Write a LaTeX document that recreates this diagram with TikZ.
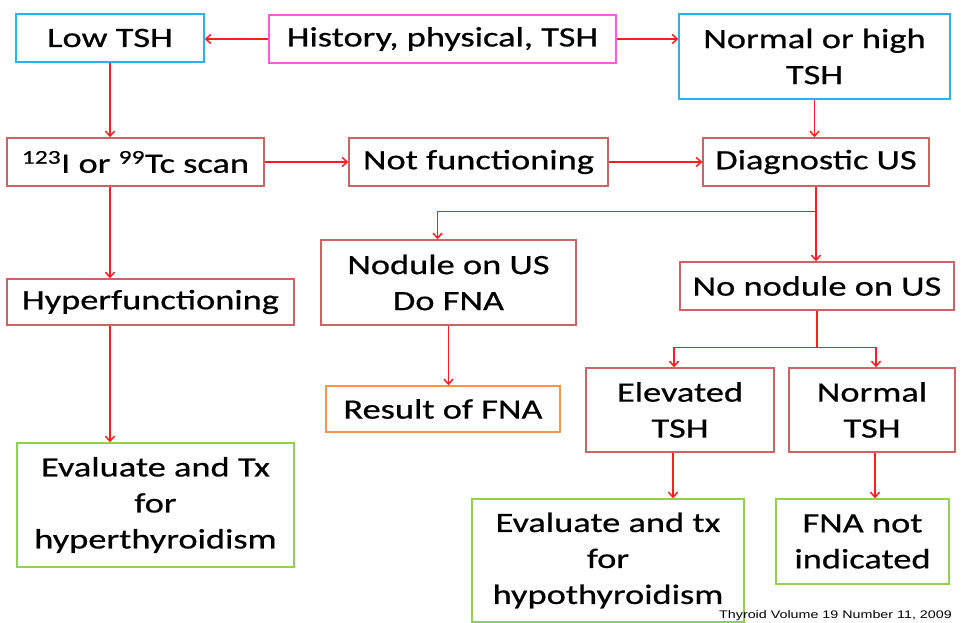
\documentclass[tikz,border=0pt]{standalone}
\usepackage{fontspec}
\setmainfont{Carlito}[FakeStretch=1.3,FakeBold=0.6]
\newfontfamily\capfont{Liberation Sans}[FakeStretch=1.3]
\usetikzlibrary{arrows.meta}
\definecolor{cyanb}{RGB}{40,180,235}
\definecolor{magb}{RGB}{250,90,220}
\definecolor{brownb}{RGB}{205,100,100}
\definecolor{orangeb}{RGB}{247,150,70}
\definecolor{greenb}{RGB}{146,208,80}
\definecolor{arrred}{RGB}{255,30,30}
\begin{document}
\begin{tikzpicture}[x=1pt,y=-1pt,
  box/.style={draw, line width=1.4pt, inner sep=0pt, align=center,
    font=\fontsize{28}{36}\selectfont, text=black},
  cbox/.style={box, draw=cyanb},
  mbox/.style={box, draw=magb},
  bbox/.style={box, draw=brownb},
  obox/.style={box, draw=orangeb},
  gbox/.style={box, draw=greenb},
  arr/.style={draw=arrred, line width=1.5pt, -{Straight Barb[length=5pt,width=9pt]}},
  capt/.style={font=\capfont\fontsize{11}{12}\selectfont, inner sep=0pt}
]
\fill[white] (0,0) rectangle (964,623);
\useasboundingbox (0,0) rectangle (964,623);

\node[cbox, minimum width=188pt, minimum height=48pt] (low) at (110,38) {Low TSH};
\node[mbox, minimum width=347pt, minimum height=48pt] (hist) at (442.5,39) {History, physical, TSH};
\node[cbox, minimum width=271pt, minimum height=85pt] (norm) at (814.5,56.5) {Normal or high\\TSH};
\node[bbox, minimum width=257pt, minimum height=48pt] (scan) at (135.5,162) {\textsuperscript{123}I or \textsuperscript{99}Tc scan};
\node[bbox, minimum width=259pt, minimum height=48pt] (notf) at (478.5,162) {Not functioning};
\node[bbox, minimum width=226pt, minimum height=48pt] (diag) at (816,162) {Diagnostic US};
\node[bbox, minimum width=287pt, minimum height=46pt] (hyper) at (150.5,302) {Hyperfunctioning};
\node[gbox, minimum width=277pt, minimum height=124pt] (evhyper) at (155.5,505) {Evaluate and Tx\\for\\hyperthyroidism};
\node[bbox, minimum width=255pt, minimum height=85pt] (nod) at (448.5,282.5) {Nodule on US\\Do FNA};
\node[bbox, minimum width=274pt, minimum height=48pt] (nonod) at (817,286) {No nodule on US};
\node[obox, minimum width=234pt, minimum height=46pt] (res) at (443,409) {Result of FNA};
\node[bbox, minimum width=188pt, minimum height=84pt] (elev) at (680,410) {Elevated\\TSH};
\node[bbox, minimum width=166pt, minimum height=84pt] (normt) at (872,410) {Normal\\TSH};
\node[gbox, minimum width=272pt, minimum height=123pt] (evhypo) at (608,560.5) {Evaluate and tx\\for\\hypothyroidism};
\node[gbox, minimum width=173pt, minimum height=85pt] (fnan) at (862.5,541.5) {FNA not\\indicated};
\node[capt, anchor=east] (cap) at (952,616) {Thyroid Volume 19 Number 11, 2009};

\draw[arr] (hist.west) -- (low.east |- hist.west);
\draw[arr] (hist.east) -- (hist.east -| norm.west);
\draw[arr] (low.south) -- (low.south |- scan.north);
\draw[arr] (norm.south) -- (norm.south |- diag.north);
\draw[arr] (scan.east) -- (notf.west);
\draw[arr] (notf.east) -- (diag.west);
\draw[arr] (low.south |- scan.south) -- (low.south |- hyper.north);
\draw[arr] (low.south |- hyper.south) -- (low.south |- evhyper.north);
\draw[arr] (diag.south) -- ++(0,25) -| ([xshift=-11pt]nod.north);
\draw[arr] (diag.south) -- (diag.south |- nonod.north);
\draw[arr] (nod.south) -- (nod.south |- res.north);
\draw[arr] (nonod.south) -- ++(0,37) -| ([xshift=-6pt]elev.north);
\draw[arr] (nonod.south) ++(0,37) -| ([xshift=4pt]normt.north);
\draw[arr] ([xshift=-7pt]elev.south) -- ([xshift=-7pt]elev.south |- evhypo.north);
\draw[arr] ([xshift=3pt]normt.south) -- ([xshift=3pt]normt.south |- fnan.north);
\end{tikzpicture}
\end{document}
